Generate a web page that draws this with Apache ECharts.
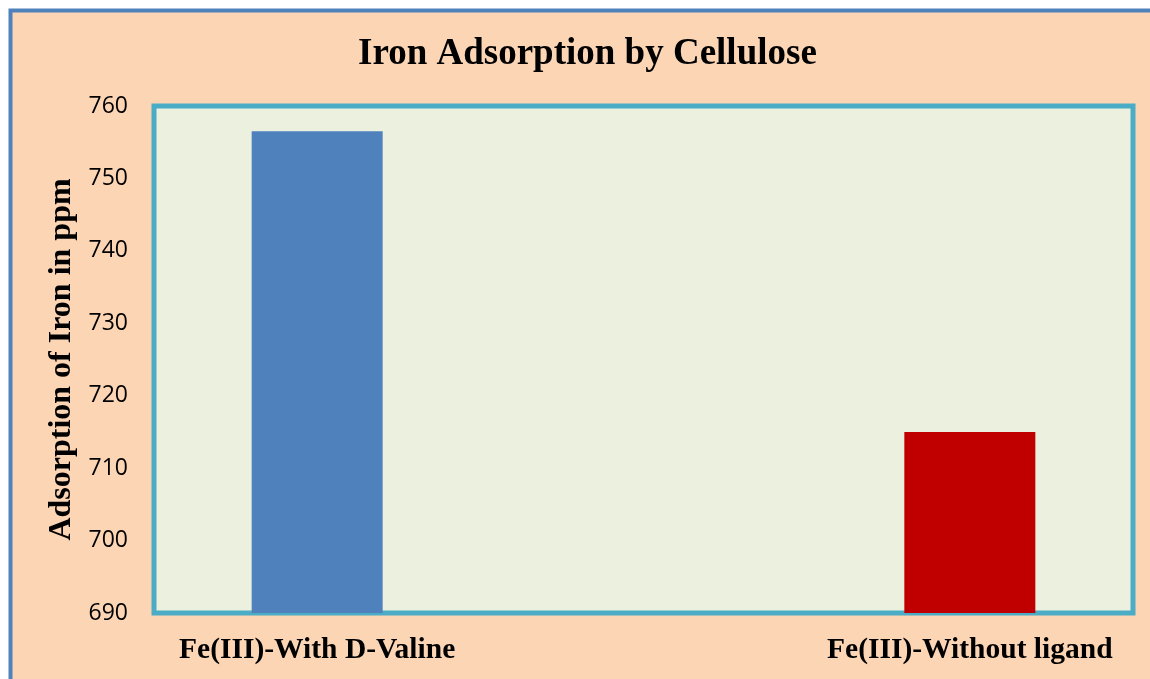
<!DOCTYPE html>
<html>
<head>
<meta charset="utf-8">
<script src="https://cdn.jsdelivr.net/npm/echarts@6/dist/echarts.min.js"></script>
<style>
  html, body { margin: 0; padding: 0; background: #ffffff; }
  #chart-box { width: 1150px; height: 679px; }
</style>
</head>
<body>
<div id="chart-box"></div>
<script>
// categories (middle slot is empty, as in the original sheet)
var categories = ['Fe(III)-With D-Valine', '', 'Fe(III)-Without ligand'];
var adsorptionValues = [756.5, null, 715];
var barColors = ['#4F81BD', '#4F81BD', '#C00000'];
var yMin = 690, yMax = 760, yStep = 10;

var chartObj = echarts.init(document.getElementById('chart-box'));
var option = {
  backgroundColor: '#ffffff',
  animation: false,
  graphic: [
    {
      type: 'rect',
      z: -10,
      shape: { x: 10.5, y: 10.5, width: 1200, height: 720 },
      style: { fill: '#FCD5B5', stroke: '#4F81BD', lineWidth: 4 }
    }
  ],
  title: {
    text: 'Iron Adsorption by Cellulose',
    left: 353,
    top: 31,
    textStyle: {
      fontFamily: 'Liberation Serif',
      fontWeight: 'bold',
      fontSize: 37,
      color: '#000000'
    }
  },
  grid: {
    show: true,
    left: 154,
    right: 17,
    top: 106,
    bottom: 66,
    backgroundColor: '#EBF1DE',
    borderColor: '#4BACC6',
    borderWidth: 5
  },
  xAxis: {
    type: 'category',
    data: categories,
    axisLine: { show: false },
    axisTick: { show: false },
    axisLabel: {
      interval: 0,
      margin: 22,
      color: '#000000',
      fontFamily: 'Liberation Serif',
      fontWeight: 'bold',
      fontSize: 29.5
    }
  },
  yAxis: {
    type: 'value',
    min: yMin,
    max: yMax,
    interval: yStep,
    name: 'Adsorption of Iron in ppm',
    nameLocation: 'middle',
    nameRotate: 90,
    nameGap: 65,
    nameTextStyle: {
      color: '#000000',
      fontFamily: 'Liberation Serif',
      fontWeight: 'bold',
      fontSize: 32
    },
    axisLine: { show: false },
    axisTick: { show: false },
    splitLine: { show: false },
    axisLabel: {
      margin: 26,
      color: '#000000',
      fontFamily: 'Open Sans',
      fontSize: 23
    }
  },
  series: [
    {
      type: 'bar',
      barWidth: 131,
      data: adsorptionValues.map(function (v, i) {
        return { value: v, itemStyle: { color: barColors[i] } };
      })
    }
  ]
};
chartObj.setOption(option);
</script>
</body>
</html>
